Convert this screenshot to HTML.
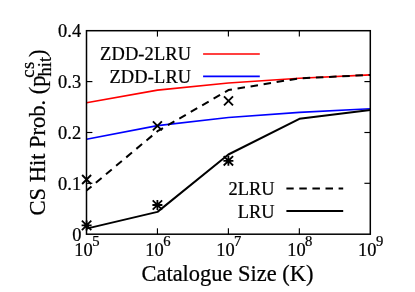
<!DOCTYPE html>
<html><head><meta charset="utf-8">
<style>
html,body{margin:0;padding:0;background:#fff;}
svg{display:block;will-change:transform;}
text{font-family:"Liberation Serif",serif;fill:#000;stroke:#000;stroke-width:0.24px;}
</style></head><body>
<svg width="415" height="292" viewBox="0 0 415 292">
<rect width="415" height="292" fill="#fff"/>
<!-- curves -->
<g fill="none" stroke-linejoin="round">
<polyline stroke="#ff0000" stroke-width="1.6" points="86.5,102.8 157.5,90.1 228.4,83 299.4,78.3 370.3,74.9"/>
<polyline stroke="#0000ff" stroke-width="1.6" points="86.5,139.3 157.5,125.6 228.4,117.5 299.4,112.4 370.3,108.7"/>
<polyline stroke="#000" stroke-width="2" stroke-dasharray="7.5,5.7" stroke-dashoffset="1" points="86.5,190.6 157.5,131.2 228.4,90.1 299.4,78.3 370.3,74.9"/>
<polyline stroke="#000" stroke-width="2" points="86.5,228.6 157.5,211.9 228.4,154.5 299.4,118.8 370.3,109.9"/>
<!-- legend lines -->
<line x1="203.1" y1="54" x2="259.8" y2="54" stroke="#ff0000" stroke-width="1.6"/>
<line x1="203.1" y1="76.4" x2="259.8" y2="76.4" stroke="#0000ff" stroke-width="1.6"/>
<line x1="286.4" y1="188.6" x2="343.2" y2="188.6" stroke="#000" stroke-width="2" stroke-dasharray="7.5,5.6" stroke-dashoffset="0.2"/>
<line x1="286.4" y1="211.1" x2="343.2" y2="211.1" stroke="#000" stroke-width="2"/>
</g>
<!-- frame -->
<rect x="86.5" y="30.7" width="283.8" height="203.5" fill="none" stroke="#000" stroke-width="1.5"/>
<!-- ticks -->
<g stroke="#000" stroke-width="1.15">
<line x1="157.45" y1="234.2" x2="157.45" y2="228.3"/><line x1="157.45" y1="30.7" x2="157.45" y2="36.6"/>
<line x1="228.4" y1="234.2" x2="228.4" y2="228.3"/><line x1="228.4" y1="30.7" x2="228.4" y2="36.6"/>
<line x1="299.35" y1="234.2" x2="299.35" y2="228.3"/><line x1="299.35" y1="30.7" x2="299.35" y2="36.6"/>
<line x1="86.5" y1="183.3" x2="92.4" y2="183.3"/><line x1="370.3" y1="183.3" x2="364.4" y2="183.3"/>
<line x1="86.5" y1="132.5" x2="92.4" y2="132.5"/><line x1="370.3" y1="132.5" x2="364.4" y2="132.5"/>
<line x1="86.5" y1="81.6" x2="92.4" y2="81.6"/><line x1="370.3" y1="81.6" x2="364.4" y2="81.6"/>
</g>
<!-- markers -->
<g stroke="#000" stroke-width="1.9" fill="none">
<path d="M82.10,175.00 L91.10,184.00 M91.10,175.00 L82.10,184.00"/>
<path d="M152.90,121.30 L161.90,130.30 M161.90,121.30 L152.90,130.30"/>
<path d="M224.00,96.30 L233.00,105.30 M233.00,96.30 L224.00,105.30"/>
<path stroke-width="1.8" d="M81.90,220.70 L91.30,230.10 M91.30,220.70 L81.90,230.10 M86.6,220.40 V230.40 M81.60,225.4 H91.60"/>
<path stroke-width="1.8" d="M152.70,200.30 L162.10,209.70 M162.10,200.30 L152.70,209.70 M157.4,200.00 V210.00 M152.40,205 H162.40"/>
<path stroke-width="1.8" d="M223.70,156.10 L233.10,165.50 M233.10,156.10 L223.70,165.50 M228.4,155.80 V165.80 M223.40,160.8 H233.40"/>
</g>
<!-- y tick labels -->
<g font-size="18.4" text-anchor="end">
<text x="81.1" y="37.3">0.4</text>
<text x="81.1" y="88">0.3</text>
<text x="81.1" y="138.8">0.2</text>
<text x="81.1" y="189.5">0.1</text>
<text x="81.5" y="240.7">0</text>
</g>
<!-- x tick labels -->
<g font-size="18.4">
<text x="74.3" y="256">10<tspan font-size="14.7" dy="-9.8" dx="-0.5">5</tspan></text>
<text x="145.3" y="256">10<tspan font-size="14.7" dy="-9.8" dx="-0.5">6</tspan></text>
<text x="216.2" y="256">10<tspan font-size="14.7" dy="-9.8" dx="-0.5">7</tspan></text>
<text x="287.2" y="256">10<tspan font-size="14.7" dy="-9.8" dx="-0.5">8</tspan></text>
<text x="358.1" y="256">10<tspan font-size="14.7" dy="-9.8" dx="-0.5">9</tspan></text>
</g>
<!-- legend text -->
<g font-size="18.4" text-anchor="end">
<text x="191.25" y="60.1" letter-spacing="0.16">ZDD-2LRU</text>
<text x="191.25" y="83.1" letter-spacing="0.16">ZDD-LRU</text>
<text x="274.6" y="195.1">2LRU</text>
<text x="274.6" y="217.6">LRU</text>
</g>
<!-- axis labels -->
<text x="141.5" y="280.5" font-size="22.45">Catalogue Size (K)</text>
<g transform="translate(44.8,215.5) rotate(-90)">
<text x="0" y="0" font-size="22.5">CS Hit Prob. (p</text>
<text x="139.1" y="6" font-size="18.4">hit</text>
<text x="137.8" y="-10.8" font-size="18.6" letter-spacing="0.4">cs</text>
<text x="158.6" y="0" font-size="22.5">)</text>
</g>
</svg>
</body></html>
